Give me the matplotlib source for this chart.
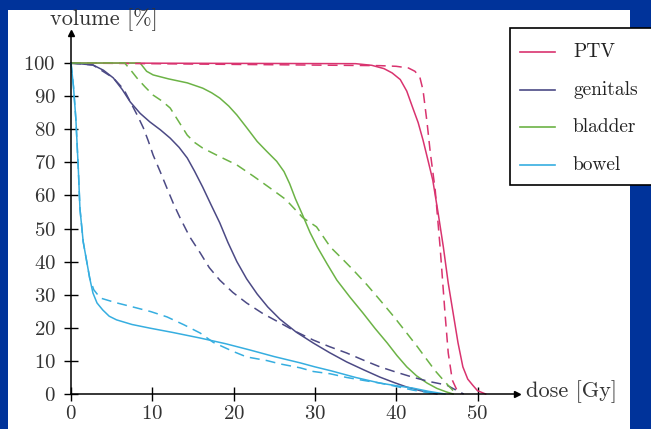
import matplotlib
matplotlib.use("Agg")
import matplotlib.pyplot as plt
from matplotlib.patches import Rectangle
from matplotlib.lines import Line2D

plt.rcParams['font.family'] = ['cmr10', 'DejaVu Serif']
plt.rcParams['axes.formatter.use_mathtext'] = True

W, H = 651, 429

# dose-volume curves, solid = plan 1, dashed = plan 2
ptv_dose = [0, 35, 37, 38.5, 39.5, 40.5, 41.3, 42, 42.7, 43.3, 43.9, 44.5, 45.2, 45.8,
            46.4, 47, 47.6, 48.2, 48.8, 49.4, 50, 51]
ptv_vol = [100, 99.8, 99.3, 98.3, 97, 95, 91.5, 86.7, 82, 76.7, 70.7, 64.6, 54, 44.4,
           33.5, 24.5, 15.5, 8.2, 4.5, 2.7, 1, 0]
ptv_dose2 = [0, 38, 40, 41.5, 42.3, 42.9, 43.3, 43.8, 44.2, 44.8, 45.4, 46, 46.4, 46.9, 47.5, 48]
ptv_vol2 = [100, 99.2, 99, 98.5, 97.5, 95.8, 91.8, 81.9, 72.8, 61.6, 44.4, 24.5, 12.4, 4.2, 1, 0]

gen_dose = [0, 2.7, 4, 5.2, 6.3, 7.3, 8.5, 9.7, 11, 12.2, 13.3, 14.3, 15.2, 16.2, 17.2,
            18.3, 19.3, 20.4, 21.6, 22.9, 24.2, 25.7, 27.7, 29.8, 31.8, 33.9, 36, 38,
            39.7, 41.3, 43, 45]
gen_vol = [100, 99.4, 97.8, 95.5, 92, 88.2, 84.8, 82.2, 79.8, 77.3, 74.5, 71.3, 67.3, 62.5, 57.3,
           51.7, 45.8, 40, 34.8, 30.2, 26.3, 22.6, 18.7, 15.4, 12.5, 9.7, 7.3, 5.1,
           3.5, 2.1, 1, 0]
gen_dose2 = [0, 2.7, 5.2, 6.5, 7.5, 8.2, 8.9, 9.5, 10.1, 11, 11.8, 12.6, 13.4, 14.6, 15.9,
             17, 18.3, 19.9, 21.6, 23.6, 25.7, 27.7, 29.8, 31.8, 33.9, 36, 38, 40, 42,
             44, 46.2, 47.8, 48.3]
gen_vol2 = [100, 99.4, 95.5, 92, 87.3, 84, 80.4, 76.5, 72.2, 67, 62.2, 57.5, 53.3, 47.5, 42.6,
            38.2, 34.4, 30.7, 27.5, 24.3, 21.5, 18.8, 16.3, 14.3, 12.4, 10.2, 8.2, 6.6, 5.1,
            3.8, 2.7, 0.6, 0]

bla_dose = [0, 8.5, 9.3, 10.1, 12, 14.3, 16.2, 17.3, 18.3, 19.4, 20.4, 21.6, 22.9, 24, 25.3,
            26.2, 26.9, 27.6, 28.5, 29.4, 30.3, 31.5, 32.7, 34.3, 35.9, 37.4, 38.9, 40.1,
            41.3, 42.5, 43.8, 45, 46.2, 47]
bla_vol = [100, 100, 97.5, 96.4, 95.2, 94, 92.4, 91, 89.4, 87, 84.3, 80.5, 76.3, 73.5, 70.3,
           67.2, 63.5, 59, 54, 48.8, 44.4, 39.3, 34.4, 29.3, 24.5, 19.8, 15.4, 11.6,
           8.2, 5.5, 3.3, 1.7, 0.6, 0]
bla_dose2 = [0, 6.6, 7.3, 8.1, 9.1, 10.1, 11.2, 12.2, 13.2, 14.3, 15.2, 16.2, 18.3, 20.4, 22.5,
             24.5, 26.4, 28.5, 30.2, 31.9, 33.3, 34.7, 36.4, 38, 39.7, 41.3, 42.6, 43.8,
             44.8, 45.8, 47, 47.5]
bla_vol2 = [100, 100, 98, 95.5, 92.8, 90.3, 88.5, 86.4, 82.5, 78.2, 76, 74.3, 71.7, 69.2, 65.7,
            62.2, 58.8, 53.3, 50.5, 44.4, 41, 37.5, 33, 28.4, 23.4, 18.4, 14.3, 10.3,
            7, 4.2, 1, 0]

bow_dose = [0, 0.3, 0.6, 0.9, 1.1, 1.5, 1.9, 2.3, 2.7, 3.2, 3.9, 4.7, 5.6, 7.5, 9.7, 12.5,
            15.9, 19, 22, 25, 28.2, 30, 32, 35, 38, 40, 42, 44, 46]
bow_vol = [100, 93, 83, 68, 56, 46, 40.5, 35, 30.5, 27.5, 25.4, 23.5, 22.4, 21, 19.9, 18.6,
           16.9, 15.2, 13.3, 11.3, 9.4, 8.2, 7, 5, 3.3, 2.5, 1.8, 0.8, 0]
bow_dose2 = [0, 0.3, 0.6, 0.9, 1.1, 1.5, 1.9, 2.3, 2.8, 3.6, 5.5, 7.6, 9.8, 11.8, 13.9, 15.9,
             17.5, 19.9, 21.6, 24.1, 25.7, 28.2, 29.8, 31.9, 33.9, 36, 38, 40, 42, 43.5, 45]
bow_vol2 = [100, 93, 83, 68, 56, 46, 40.5, 35, 31.5, 29, 27.6, 26.3, 24.9, 23.3, 20.9, 18.4,
            15.6, 12.9, 11.2, 10.1, 9.1, 7.9, 6.8, 6.1, 5, 4.1, 3.3, 2.3, 1.2, 0.6, 0]

names = ["PTV", "genitals", "bladder", "bowel"]
colors = ["#d9336f", "#4c4a85", "#6cb346", "#36aee0"]
solid = [(ptv_dose, ptv_vol), (gen_dose, gen_vol), (bla_dose, bla_vol), (bow_dose, bow_vol)]
dashed = [(ptv_dose2, ptv_vol2), (gen_dose2, gen_vol2), (bla_dose2, bla_vol2), (bow_dose2, bow_vol2)]

xticks = [0, 10, 20, 30, 40, 50]
yticks = [0, 10, 20, 30, 40, 50, 60, 70, 80, 90, 100]


def fx(px):
    return px / W


def fy(py):
    return 1 - py / H


fig = plt.figure(figsize=(W / 100, H / 100), dpi=100)
fig.patch.set_facecolor("#00339a")
fig.add_artist(Rectangle((fx(8), 0), fx(630) - fx(8), fy(10), transform=fig.transFigure,
                         facecolor="white", edgecolor="none", zorder=-5))

# axes: dose 0 at px 71, 10 Gy = 8.13 px ; volume 0 at py 394, 10 % = 3.31 px
ax = fig.add_axes([fx(71), fy(394), fx(517) - fx(71), fy(33) - fy(394)])
ax.set_facecolor("none")
ax.set_xlim(0, (517 - 71) / 8.13)
ax.set_ylim(0, (394 - 33) / 3.31)

for (d, v), c in zip(solid, colors):
    ax.plot(d, v, color=c, lw=1.1, clip_on=False)
for (d, v), c in zip(dashed, colors):
    ax.plot(d, v, color=c, lw=1.1, ls=(0, (6.5, 4)), clip_on=False)

for s in ["top", "right"]:
    ax.spines[s].set_visible(False)
for s in ["left", "bottom"]:
    ax.spines[s].set_linewidth(1.1)
ax.plot(1, 0, ">k", ms=5, transform=ax.get_yaxis_transform(), clip_on=False)
ax.plot(0, 1, "^k", ms=5, transform=ax.get_xaxis_transform(), clip_on=False)

ax.set_xticks(xticks)
ax.set_yticks(yticks)
ax.tick_params(direction="inout", length=10, width=1, labelsize=15, labelcolor="#333333")
ax.tick_params(axis="x", pad=3)
ax.tick_params(axis="y", pad=6)

fig.text(fx(104), fy(20), "volume [%]", ha="center", va="center", fontsize=16, color="#333333")
fig.text(fx(526), fy(392), "dose [Gy]", ha="left", va="center", fontsize=16, color="#333333")

# legend box
fig.add_artist(Rectangle((fx(510), fy(185)), fx(160), fy(28) - fy(185), transform=fig.transFigure,
                         facecolor="white", edgecolor="black", lw=1.2, zorder=5))
for i, (n, c) in enumerate(zip(names, colors)):
    yy = 52 + i * 37.7
    fig.add_artist(Line2D([fx(520), fx(555)], [fy(yy), fy(yy)], transform=fig.transFigure,
                          color=c, lw=1.2, zorder=6))
    fig.text(fx(573), fy(yy), n, ha="left", va="center", fontsize=14, color="#222222", zorder=6)

fig.savefig("out.png", dpi=100, facecolor=fig.get_facecolor())
